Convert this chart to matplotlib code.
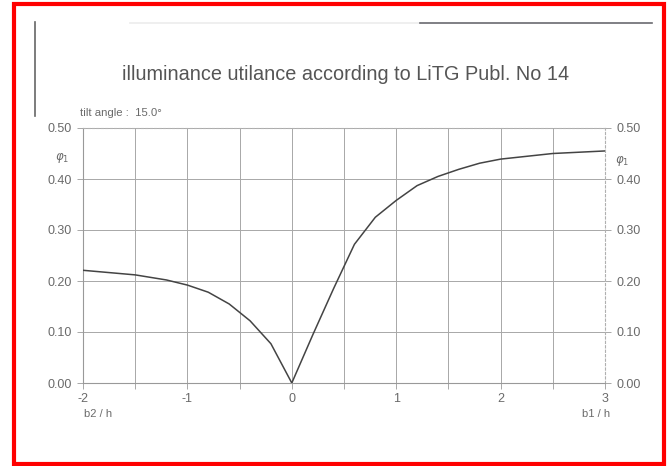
import matplotlib
matplotlib.use("Agg")
import matplotlib.pyplot as plt
from matplotlib.patches import Rectangle
from matplotlib.lines import Line2D

# Data
ratio_x = [-2.0, -1.5, -1.2, -1.0, -0.8, -0.6, -0.4, -0.2, 0.0,
           0.2, 0.4, 0.6, 0.8, 1.0, 1.2, 1.4, 1.6, 1.8, 2.0, 2.5, 3.0]
phi1 = [0.221, 0.212, 0.202, 0.192, 0.178, 0.155, 0.122, 0.077, 0.0,
        0.094, 0.185, 0.272, 0.325, 0.358, 0.387, 0.405, 0.419, 0.431, 0.439, 0.450, 0.455]
x_tick_vals = [-2, -1, 0, 1, 2, 3]
x_tick_labels = ["-2", "-1", "0", "1", "2", "3"]
y_tick_vals = [0.0, 0.1, 0.2, 0.3, 0.4, 0.5]
y_tick_labels = ["0.00", "0.10", "0.20", "0.30", "0.40", "0.50"]
title_text = "illuminance utilance according to LiTG Publ. No 14"
tilt_text = "tilt angle :  15.0\u00b0"

plt.rcParams['font.family'] = ['Liberation Sans', 'DejaVu Sans']

W, H = 667, 466
fig = plt.figure(figsize=(W / 100, H / 100), dpi=100)
fig.patch.set_facecolor('white')

L, R, T, B = 83, 605, 128, 383
ax = fig.add_axes([L / W, 1 - B / H, (R - L) / W, (B - T) / H])

txt_col = '#6a6a6a'
grid_col = '#a8a8a8'

ax.plot(ratio_x, phi1, color='#444444', lw=1.1, zorder=3)
ax.set_xlim(-2, 3)
ax.set_ylim(0, 0.5)

ax.set_xticks(x_tick_vals)
ax.set_xticklabels(x_tick_labels)
ax.set_xticks([-1.5, -0.5, 0.5, 1.5, 2.5], minor=True)
ax.set_yticks(y_tick_vals)
ax.set_yticklabels(y_tick_labels)

ax.grid(True, which='both', color=grid_col, lw=0.7)
ax.tick_params(axis='both', which='both', direction='out', length=4, width=0.7,
               color=grid_col, labelcolor=txt_col, labelsize=9)
ax.tick_params(axis='y', right=True, labelright=True, pad=4)
ax.tick_params(axis='x', pad=3)

for s in ['left', 'bottom']:
    ax.spines[s].set_color('#999999')
    ax.spines[s].set_linewidth(0.8)
for s in ['top', 'right']:
    ax.spines[s].set_color('#b0b0b0')
    ax.spines[s].set_linewidth(0.8)
    ax.spines[s].set_linestyle((0, (2, 2)))

# texts
fig.text(346 / W, 1 - 75 / H, title_text, ha='center', va='center',
         fontsize=14.3, color='#555555')
fig.text(80 / W, 1 - 113 / H, tilt_text, ha='left', va='center',
         fontsize=8.2, color=txt_col)
fig.text(62 / W, 1 - 158 / H, r'$\varphi_1$', ha='center', va='center',
         fontsize=8.5, color=txt_col)
fig.text(622 / W, 1 - 161 / H, r'$\varphi_1$', ha='center', va='center',
         fontsize=8.5, color=txt_col)
fig.text(84 / W, 1 - 414 / H, 'b2 / h', ha='left', va='center',
         fontsize=8, color=txt_col)
fig.text(610 / W, 1 - 414 / H, 'b1 / h', ha='right', va='center',
         fontsize=8, color=txt_col)

# scan edge lines
fig.add_artist(Line2D([35 / W, 35 / W], [1 - 22 / H, 1 - 116 / H],
                      transform=fig.transFigure, color='#666666', lw=1.2))
fig.add_artist(Line2D([130 / W, 420 / W], [1 - 23 / H, 1 - 23 / H],
                      transform=fig.transFigure, color='#ececec', lw=1.2))
fig.add_artist(Line2D([420 / W, 652 / W], [1 - 23 / H, 1 - 23 / H],
                      transform=fig.transFigure, color='#6a6a70', lw=1.2))

# red frame
fig.add_artist(Rectangle((14 / W, 2 / H), 650 / W, 460 / H,
                         transform=fig.transFigure, fill=False,
                         edgecolor='#ff0000', lw=3))

fig.savefig('out.png', dpi=100, facecolor='white')
